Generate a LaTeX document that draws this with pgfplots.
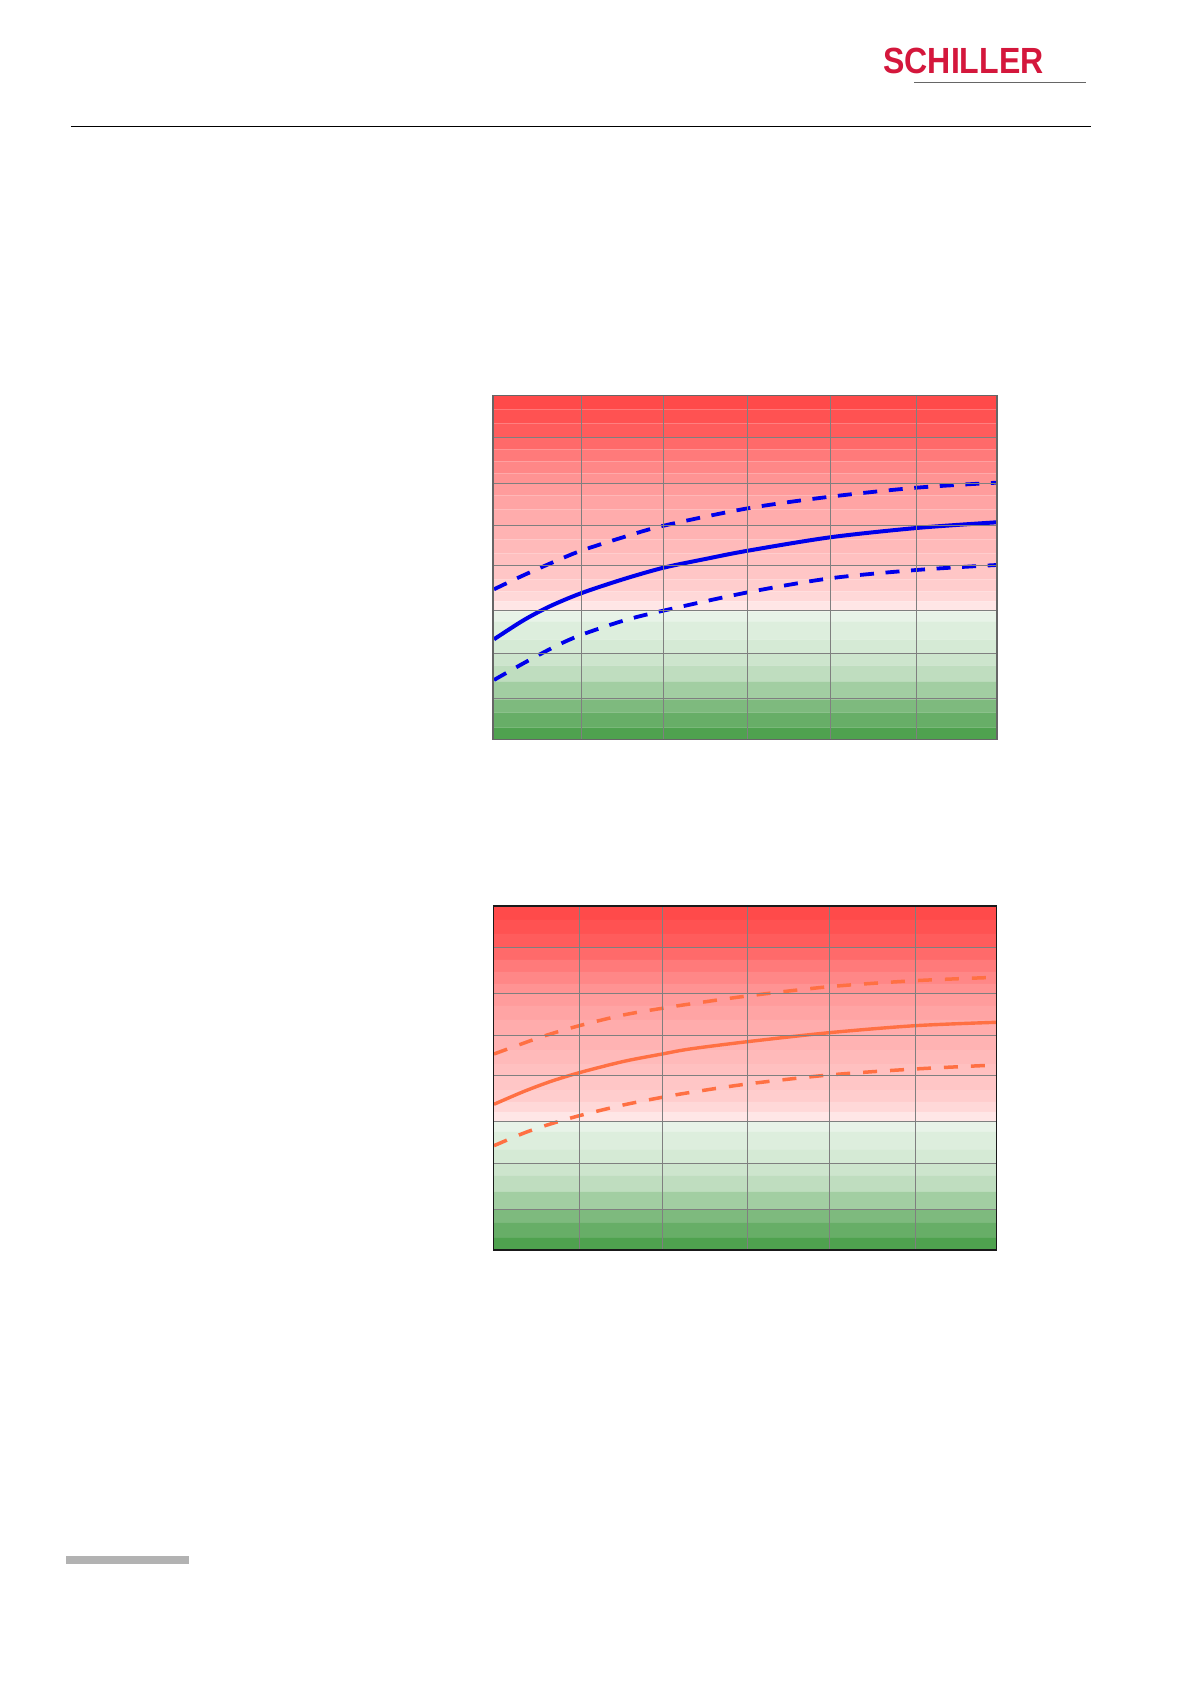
\documentclass[border=0pt]{standalone}
\usepackage{pgfplots}
\pgfplotsset{compat=1.18}
\usepackage{fontspec}
\setmainfont{Liberation Sans}
\definecolor{schred}{HTML}{D4173C}
\definecolor{gridgray}{HTML}{7F7F7F}
\definecolor{myblue}{RGB}{0,0,235}
\definecolor{myorange}{HTML}{FF7043}
\definecolor{bA}{HTML}{FF4A4A}
\definecolor{bB}{HTML}{FF5252}
\definecolor{bC}{HTML}{FF5C5C}
\definecolor{bD}{HTML}{FF6A6A}
\definecolor{bE}{HTML}{FF7A7A}
\definecolor{bF}{HTML}{FF8787}
\definecolor{bG}{HTML}{FF9393}
\definecolor{bH}{HTML}{FF9C9C}
\definecolor{bI}{HTML}{FFA4A4}
\definecolor{bJ}{HTML}{FFACAC}
\definecolor{bK}{HTML}{FFB3B3}
\definecolor{bL}{HTML}{FFBABA}
\definecolor{bM}{HTML}{FFC0C0}
\definecolor{bN}{HTML}{FFC6C6}
\definecolor{bO}{HTML}{FFCDCD}
\definecolor{bP}{HTML}{FFD8D8}
\definecolor{bQ}{HTML}{FFE6E6}
\definecolor{bR}{HTML}{E8F3E8}
\definecolor{bS}{HTML}{DDEEDD}
\definecolor{bT}{HTML}{D5EAD5}
\definecolor{bU}{HTML}{CDE5CD}
\definecolor{bV}{HTML}{BFDDBF}
\definecolor{bW}{HTML}{A2CEA2}
\definecolor{bX}{HTML}{7EBA7E}
\definecolor{bY}{HTML}{67AE67}
\definecolor{bZ}{HTML}{4FA24F}
\newcommand{\band}[3]{\addplot[draw=none,fill=#3,forget plot] coordinates {(0,#1) (496,#1) (496,#2) (0,#2) (0,#1)};}
\newcommand{\bands}{%
\band{330}{344}{bA}
\band{316}{330}{bB}
\band{302}{316}{bC}
\band{290}{302}{bD}
\band{278}{290}{bE}
\band{266}{278}{bF}
\band{256}{266}{bG}
\band{244}{256}{bH}
\band{230}{244}{bI}
\band{214}{230}{bJ}
\band{200}{214}{bK}
\band{186}{200}{bL}
\band{174}{186}{bM}
\band{160}{174}{bN}
\band{148}{160}{bO}
\band{138}{148}{bP}
\band{128}{138}{bQ}
\band{118}{128}{bR}
\band{100}{118}{bS}
\band{86}{100}{bT}
\band{74}{86}{bU}
\band{58}{74}{bV}
\band{40}{58}{bW}
\band{27}{40}{bX}
\band{12}{27}{bY}
\band{0}{12}{bZ}
}
\pgfplotsset{chartstyle/.style={
  axis on top,
  scale only axis, height=172pt,
  xmin=0, xmax=496, ymin=0, ymax=344,
  ytick={40.3,86,128.3,174,214,256,302},
  xticklabels={}, yticklabels={},
  major tick length=0pt,
  grid=major,
  major grid style={gridgray, line width=0.5pt},
  anchor=south west,
}}
\begin{document}
\begin{tikzpicture}
\fill[white] (0,0) rectangle (595pt,842pt);
% header
\node[anchor=base west, inner sep=0pt, text=schred] at (441.5pt,805.35pt)
  {\scalebox{0.88}[1]{\fontsize{18.2pt}{20pt}\selectfont\bfseries SCHILLER}};
\draw[gray!80!black, line width=0.7pt] (457pt,800.65pt) -- (543pt,800.65pt);
\draw[black, line width=0.5pt] (35.4pt,778.65pt) -- (545.6pt,778.65pt);
\fill[black!30] (33pt,60.15pt) rectangle (94.5pt,64.15pt);

% chart 1
\begin{axis}[chartstyle, width=252pt, at={(246.5pt,472.35pt)},
  xtick={86.6,167.6,250.4,332.3,417},
  axis line style={draw=black!60, line width=0.6pt}]
\bands
\addplot[myblue, line width=2pt, smooth] coordinates {
 (1,100) (30,119) (56,133) (86.6,146) (128,160) (167.6,171.5) (210,180.5) (250.4,188.5) (332,202) (417,211.3) (496,217)};
\addplot[myblue, line width=1.9pt, smooth, dash pattern=on 7pt off 5.8pt] coordinates {
 (1,150) (30,164) (62,178.3) (86.6,188.5) (128,202) (168,213.6) (251,231) (332,242.6) (417,251.6) (496,256.6)};
\addplot[myblue, line width=1.9pt, smooth, dash pattern=on 7pt off 5.8pt] coordinates {
 (1,59.3) (30,76) (62,93.3) (86.6,104.3) (128,118.5) (167.6,128.6) (251,147) (332,161) (417,169.3) (496,174.3)};
\end{axis}

% chart 2
\begin{axis}[chartstyle, width=251.5pt, at={(246.75pt,217pt)},
  xtick={84.6,166.4,250.4,331.1,415.8},
  axis line style={draw=black!90, line width=0.7pt}]
\bands
\addplot[myorange, line width=1.7pt, smooth] coordinates {
 (0.5,145.7) (29.4,158.3) (55.7,168.3) (84.6,177.3) (128,188.5) (166.4,196) (193.8,201) (250.4,208.3) (331.1,217.3) (415.8,224.3) (496,227.7)};
\addplot[myorange, line width=1.75pt, smooth, dash pattern=on 7pt off 6.5pt] coordinates {
 (0.5,196) (29.4,206.7) (53,215) (84.6,224.3) (128,235) (166.4,241.7) (193.8,246) (250.4,254) (331.1,263.3) (415.8,269.3) (496,272.7)};
\addplot[myorange, line width=1.75pt, smooth, dash pattern=on 7pt off 6.5pt] coordinates {
 (0.5,104.3) (29.4,116.7) (53,125) (84.6,134.3) (128,145) (166.4,152.7) (193.8,157.5) (250.4,166) (331.1,175) (415.8,181) (496,185)};
\end{axis}
\end{tikzpicture}
\end{document}
